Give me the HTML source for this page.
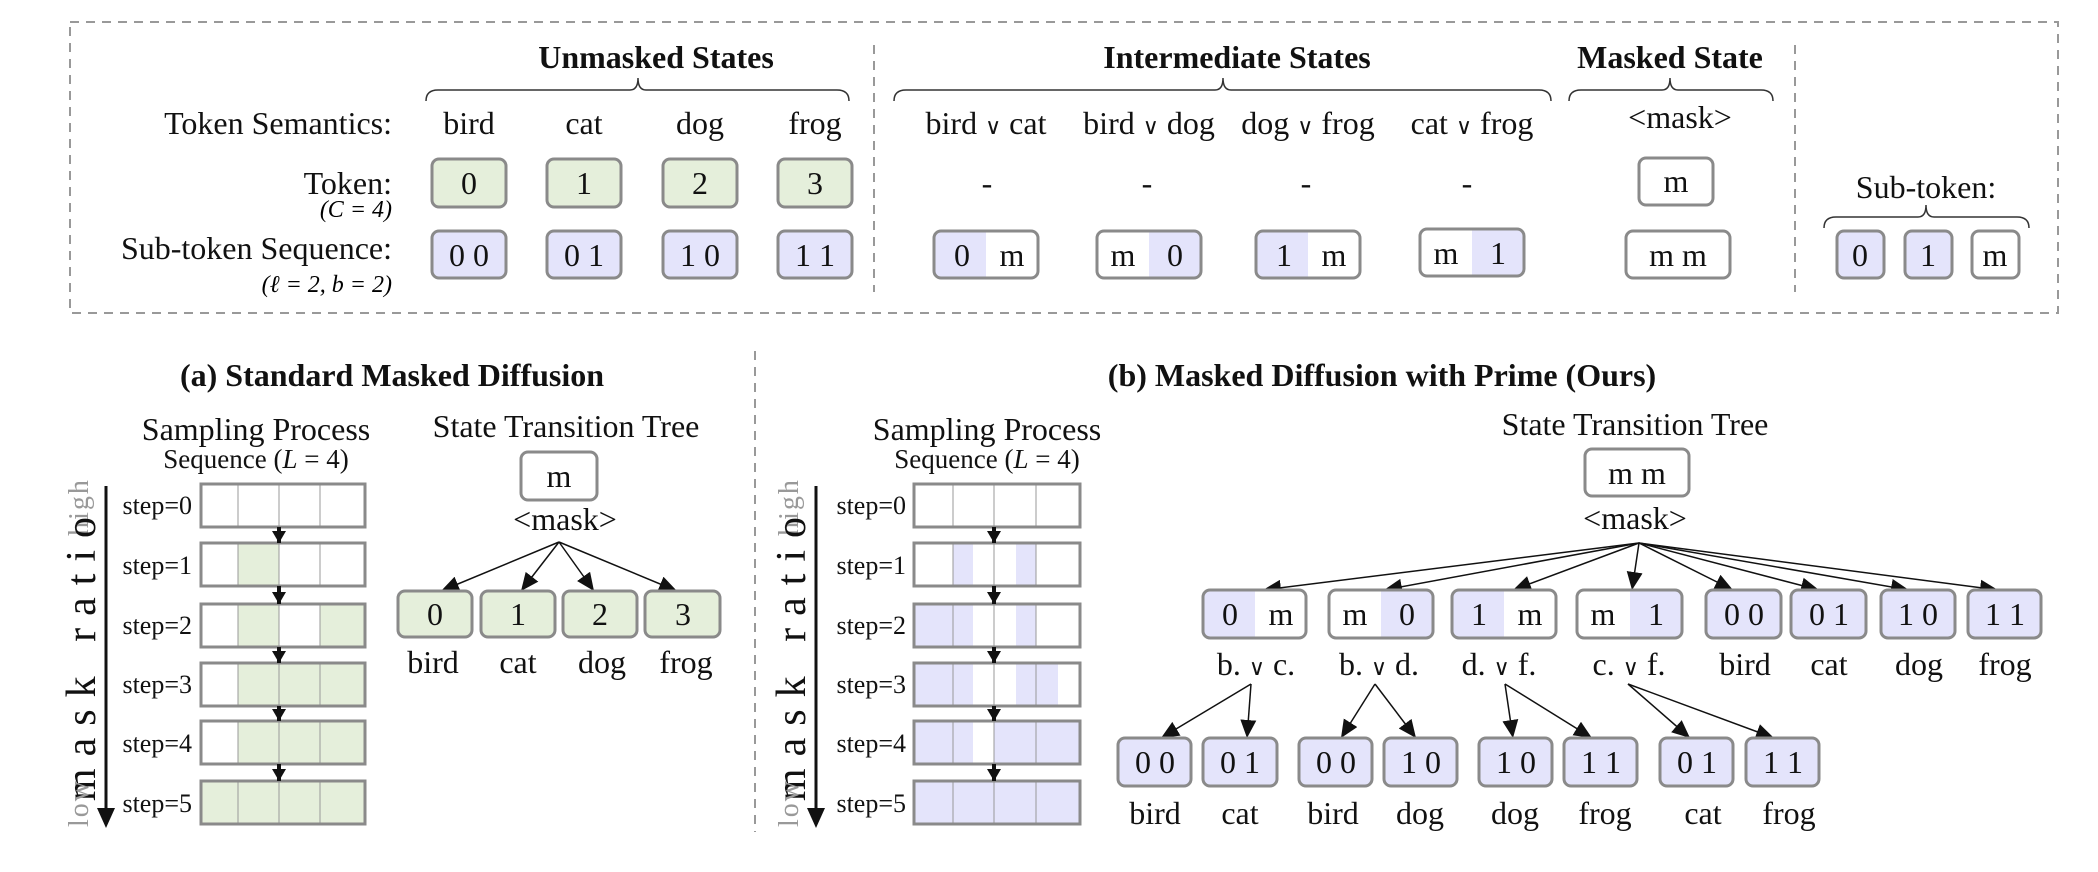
<!DOCTYPE html>
<html><head><meta charset="utf-8"><style>
html,body{margin:0;padding:0;background:#fff;}
body{position:relative;width:2098px;height:872px;overflow:hidden;}
svg{display:block;font-family:"Liberation Serif","DejaVu Serif",serif;}
.b{fill:none;stroke:#8a8a8a;stroke-width:3;}
.g{fill:#e5efdb;}
.p{fill:#e4e4fb;}
.w{fill:#fff;}
.t{font-size:32px;text-anchor:middle;fill:#111;}
.tb{font-size:32px;font-weight:bold;text-anchor:middle;fill:#111;}
.s{font-size:26px;text-anchor:end;fill:#111;}
.br{fill:none;stroke:#333;stroke-width:1.5;}
.a{stroke:#111;stroke-width:1.5;fill:none;marker-end:url(#ah);}
.ka{stroke:#111;stroke-width:4;marker-end:url(#kh);}
.d{stroke:#999;stroke-width:2;stroke-dasharray:9,7;fill:none;}
.cl{stroke:#999;stroke-width:1;}
.v{font-size:22px;}
.rot{position:absolute;font-family:"Liberation Serif","DejaVu Serif",serif;white-space:nowrap;line-height:1;transform:translate(-50%,-50%);writing-mode:vertical-rl;text-orientation:sideways;writing-mode:sideways-lr;}
.vert{font-size:42px;color:#111;letter-spacing:12px;}
.gr{font-size:28px;color:#999;letter-spacing:2px;}
</style></head><body>
<svg width="2098" height="872" viewBox="0 0 2098 872" xmlns="http://www.w3.org/2000/svg">
<defs>
<marker id="ah" markerUnits="userSpaceOnUse" markerWidth="20" markerHeight="16" refX="18" refY="8" orient="auto"><path d="M0,0 L18,8 L0,16 z" fill="#111"/></marker>
<marker id="kh" markerUnits="userSpaceOnUse" markerWidth="14" markerHeight="14" refX="12" refY="7" orient="auto"><path d="M0,0 L12,7 L0,14 z" fill="#111"/></marker>
</defs>

<rect x="70" y="22" width="1988" height="291" class="d"/>
<line x1="874" y1="45" x2="874" y2="292" class="d"/>
<line x1="1795" y1="45" x2="1795" y2="292" class="d"/>

<text x="656" y="68" class="tb">Unmasked States</text>
<text x="1237" y="68" class="tb">Intermediate States</text>
<text x="1670" y="68" class="tb">Masked State</text>

<path class="br" d="M426,101 Q426,90 438,90 L630,90 Q638,90 638,78 Q638,90 646,90 L837,90 Q849,90 849,101"/>
<path class="br" d="M894,101 Q894,90 906,90 L1215,90 Q1223,90 1223,78 Q1223,90 1231,90 L1539,90 Q1551,90 1551,101"/>
<path class="br" d="M1569,101 Q1569,90 1581,90 L1662,90 Q1670,90 1670,78 Q1670,90 1678,90 L1761,90 Q1773,90 1773,101"/>
<path class="br" d="M1824,228 Q1824,217 1836,217 L1918,217 Q1926,217 1926,205 Q1926,217 1934,217 L2017,217 Q2029,217 2029,228"/>

<text x="392" y="134" class="t" style="text-anchor:end">Token Semantics:</text>
<text x="392" y="194" class="t" style="text-anchor:end">Token:</text>
<text x="392" y="217" style="font-size:24px;text-anchor:end;font-style:italic">(C = 4)</text>
<text x="392" y="259" class="t" style="text-anchor:end">Sub-token Sequence:</text>
<text x="392" y="292" style="font-size:24px;text-anchor:end;font-style:italic">(ℓ = 2, b = 2)</text>

<text x="469" y="134" class="t">bird</text>
<text x="584" y="134" class="t">cat</text>
<text x="700" y="134" class="t">dog</text>
<text x="815" y="134" class="t">frog</text>
<text x="986" y="134" class="t">bird <tspan class="v">∨</tspan> cat</text>
<text x="1149" y="134" class="t">bird <tspan class="v">∨</tspan> dog</text>
<text x="1308" y="134" class="t">dog <tspan class="v">∨</tspan> frog</text>
<text x="1472" y="134" class="t">cat <tspan class="v">∨</tspan> frog</text>
<text x="1680" y="128" class="t">&lt;mask&gt;</text>

<rect x="432" y="159" width="74" height="48" rx="7" class="g"/><rect x="432" y="159" width="74" height="48" rx="7" class="b"/><text x="469" y="194" class="t">0</text>
<rect x="547" y="159" width="74" height="48" rx="7" class="g"/><rect x="547" y="159" width="74" height="48" rx="7" class="b"/><text x="584" y="194" class="t">1</text>
<rect x="663" y="159" width="74" height="48" rx="7" class="g"/><rect x="663" y="159" width="74" height="48" rx="7" class="b"/><text x="700" y="194" class="t">2</text>
<rect x="778" y="159" width="74" height="48" rx="7" class="g"/><rect x="778" y="159" width="74" height="48" rx="7" class="b"/><text x="815" y="194" class="t">3</text>
<text x="987" y="194" class="t">-</text><text x="1147" y="194" class="t">-</text><text x="1306" y="194" class="t">-</text><text x="1467" y="194" class="t">-</text>
<rect x="1639" y="158" width="74" height="47" rx="7" class="w"/><rect x="1639" y="158" width="74" height="47" rx="7" class="b"/><text x="1676" y="192" class="t">m</text>

<rect x="432" y="231" width="74" height="47" rx="7" class="p"/><rect x="432" y="231" width="74" height="47" rx="7" class="b"/><text x="469" y="266" class="t">0 0</text>
<rect x="547" y="231" width="74" height="47" rx="7" class="p"/><rect x="547" y="231" width="74" height="47" rx="7" class="b"/><text x="584" y="266" class="t">0 1</text>
<rect x="663" y="231" width="74" height="47" rx="7" class="p"/><rect x="663" y="231" width="74" height="47" rx="7" class="b"/><text x="700" y="266" class="t">1 0</text>
<rect x="778" y="231" width="74" height="47" rx="7" class="p"/><rect x="778" y="231" width="74" height="47" rx="7" class="b"/><text x="815" y="266" class="t">1 1</text>

<rect x="934" y="231" width="104" height="47" rx="7" class="w"/><rect x="935" y="232" width="51" height="45" class="p"/><rect x="934" y="231" width="104" height="47" rx="7" class="b"/><text x="962" y="266" class="t">0</text><text x="1012" y="266" class="t">m</text>
<rect x="1097" y="231" width="104" height="47" rx="7" class="w"/><rect x="1149" y="232" width="51" height="45" class="p"/><rect x="1097" y="231" width="104" height="47" rx="7" class="b"/><text x="1123" y="266" class="t">m</text><text x="1175" y="266" class="t">0</text>
<rect x="1256" y="231" width="104" height="47" rx="7" class="w"/><rect x="1257" y="232" width="51" height="45" class="p"/><rect x="1256" y="231" width="104" height="47" rx="7" class="b"/><text x="1284" y="266" class="t">1</text><text x="1334" y="266" class="t">m</text>
<rect x="1420" y="229" width="104" height="47" rx="7" class="w"/><rect x="1472" y="230" width="51" height="45" class="p"/><rect x="1420" y="229" width="104" height="47" rx="7" class="b"/><text x="1446" y="264" class="t">m</text><text x="1498" y="264" class="t">1</text>
<rect x="1626" y="231" width="104" height="47" rx="7" class="w"/><rect x="1626" y="231" width="104" height="47" rx="7" class="b"/><text x="1678" y="266" class="t">m m</text>

<text x="1926" y="198" class="t">Sub-token:</text>
<rect x="1837" y="231" width="47" height="47" rx="7" class="p"/><rect x="1837" y="231" width="47" height="47" rx="7" class="b"/><text x="1860" y="266" class="t">0</text>
<rect x="1905" y="231" width="47" height="47" rx="7" class="p"/><rect x="1905" y="231" width="47" height="47" rx="7" class="b"/><text x="1928" y="266" class="t">1</text>
<rect x="1972" y="231" width="47" height="47" rx="7" class="w"/><rect x="1972" y="231" width="47" height="47" rx="7" class="b"/><text x="1995" y="266" class="t">m</text>

<line x1="755" y1="351" x2="755" y2="832" class="d"/>

<text x="392" y="386" class="tb">(a) Standard Masked Diffusion</text>
<text x="256" y="440" class="t">Sampling Process</text>
<text x="256" y="468" class="t" style="font-size:27px">Sequence (<tspan font-style="italic">L</tspan> = 4)</text>
<text x="566" y="437" class="t">State Transition Tree</text>

<line x1="106" y1="486" x2="106" y2="810" stroke="#111" stroke-width="3"/>
<path d="M97,808 L115,808 L106,828 z" fill="#111"/>

<g>
<text x="192" y="514" class="s">step=0</text>
<rect x="201" y="484" width="164" height="43" class="w"/>
<line x1="238" y1="484" x2="238" y2="527" class="cl"/><line x1="279" y1="484" x2="279" y2="527" class="cl"/><line x1="320" y1="484" x2="320" y2="527" class="cl"/>
<rect x="201" y="484" width="164" height="43" class="b"/>

<text x="192" y="574" class="s">step=1</text>
<rect x="238" y="543" width="41" height="43" class="g"/>
<line x1="238" y1="543" x2="238" y2="586" class="cl"/><line x1="279" y1="543" x2="279" y2="586" class="cl"/><line x1="320" y1="543" x2="320" y2="586" class="cl"/>
<rect x="201" y="543" width="164" height="43" class="b"/>

<text x="192" y="634" class="s">step=2</text>
<rect x="238" y="604" width="41" height="43" class="g"/><rect x="320" y="604" width="45" height="43" class="g"/>
<line x1="238" y1="604" x2="238" y2="647" class="cl"/><line x1="279" y1="604" x2="279" y2="647" class="cl"/><line x1="320" y1="604" x2="320" y2="647" class="cl"/>
<rect x="201" y="604" width="164" height="43" class="b"/>

<text x="192" y="693" class="s">step=3</text>
<rect x="238" y="663" width="127" height="43" class="g"/>
<line x1="238" y1="663" x2="238" y2="706" class="cl"/><line x1="279" y1="663" x2="279" y2="706" class="cl"/><line x1="320" y1="663" x2="320" y2="706" class="cl"/>
<rect x="201" y="663" width="164" height="43" class="b"/>

<text x="192" y="752" class="s">step=4</text>
<rect x="238" y="721" width="127" height="43" class="g"/>
<line x1="238" y1="721" x2="238" y2="764" class="cl"/><line x1="279" y1="721" x2="279" y2="764" class="cl"/><line x1="320" y1="721" x2="320" y2="764" class="cl"/>
<rect x="201" y="721" width="164" height="43" class="b"/>

<text x="192" y="812" class="s">step=5</text>
<rect x="201" y="781" width="164" height="43" class="g"/>
<line x1="238" y1="781" x2="238" y2="824" class="cl"/><line x1="279" y1="781" x2="279" y2="824" class="cl"/><line x1="320" y1="781" x2="320" y2="824" class="cl"/>
<rect x="201" y="781" width="164" height="43" class="b"/>

<line x1="279" y1="527" x2="279" y2="543" class="ka"/>
<line x1="279" y1="586" x2="279" y2="604" class="ka"/>
<line x1="279" y1="647" x2="279" y2="663" class="ka"/>
<line x1="279" y1="706" x2="279" y2="721" class="ka"/>
<line x1="279" y1="764" x2="279" y2="781" class="ka"/>
</g>

<rect x="521" y="452" width="76" height="48" rx="7" class="w"/><rect x="521" y="452" width="76" height="48" rx="7" class="b"/><text x="559" y="487" class="t">m</text>
<text x="565" y="530" class="t">&lt;mask&gt;</text>
<line x1="559" y1="542" x2="441" y2="591" class="a"/>
<line x1="559" y1="542" x2="521" y2="591" class="a"/>
<line x1="559" y1="542" x2="594" y2="591" class="a"/>
<line x1="559" y1="542" x2="677" y2="591" class="a"/>
<rect x="398" y="591" width="74" height="46" rx="7" class="g"/><rect x="398" y="591" width="74" height="46" rx="7" class="b"/><text x="435" y="625" class="t">0</text>
<rect x="481" y="591" width="74" height="46" rx="7" class="g"/><rect x="481" y="591" width="74" height="46" rx="7" class="b"/><text x="518" y="625" class="t">1</text>
<rect x="563" y="591" width="74" height="46" rx="7" class="g"/><rect x="563" y="591" width="74" height="46" rx="7" class="b"/><text x="600" y="625" class="t">2</text>
<rect x="645" y="591" width="75" height="46" rx="7" class="g"/><rect x="645" y="591" width="75" height="46" rx="7" class="b"/><text x="683" y="625" class="t">3</text>
<text x="433" y="673" class="t">bird</text><text x="518" y="673" class="t">cat</text><text x="602" y="673" class="t">dog</text><text x="686" y="673" class="t">frog</text>

<text x="1382" y="386" class="tb">(b) Masked Diffusion with Prime (Ours)</text>
<text x="987" y="440" class="t">Sampling Process</text>
<text x="987" y="468" class="t" style="font-size:27px">Sequence (<tspan font-style="italic">L</tspan> = 4)</text>

<line x1="816" y1="486" x2="816" y2="810" stroke="#111" stroke-width="3"/>
<path d="M807,808 L825,808 L816,828 z" fill="#111"/>

<g>
<text x="906" y="514" class="s">step=0</text>
<rect x="914" y="484" width="166" height="43" class="w"/>
<line x1="953" y1="484" x2="953" y2="527" class="cl"/><line x1="994" y1="484" x2="994" y2="527" class="cl"/><line x1="1036" y1="484" x2="1036" y2="527" class="cl"/>
<rect x="914" y="484" width="166" height="43" class="b"/>

<text x="906" y="574" class="s">step=1</text>
<rect x="953" y="543" width="20" height="43" class="p"/><rect x="1016" y="543" width="20" height="43" class="p"/>
<line x1="953" y1="543" x2="953" y2="586" class="cl"/><line x1="994" y1="543" x2="994" y2="586" class="cl"/><line x1="1036" y1="543" x2="1036" y2="586" class="cl"/>
<rect x="914" y="543" width="166" height="43" class="b"/>

<text x="906" y="634" class="s">step=2</text>
<rect x="914" y="604" width="59" height="43" class="p"/><rect x="1016" y="604" width="20" height="43" class="p"/>
<line x1="953" y1="604" x2="953" y2="647" class="cl"/><line x1="994" y1="604" x2="994" y2="647" class="cl"/><line x1="1036" y1="604" x2="1036" y2="647" class="cl"/>
<rect x="914" y="604" width="166" height="43" class="b"/>

<text x="906" y="693" class="s">step=3</text>
<rect x="914" y="663" width="59" height="43" class="p"/><rect x="1016" y="663" width="42" height="43" class="p"/>
<line x1="953" y1="663" x2="953" y2="706" class="cl"/><line x1="994" y1="663" x2="994" y2="706" class="cl"/><line x1="1036" y1="663" x2="1036" y2="706" class="cl"/>
<rect x="914" y="663" width="166" height="43" class="b"/>

<text x="906" y="752" class="s">step=4</text>
<rect x="914" y="721" width="59" height="43" class="p"/><rect x="994" y="721" width="86" height="43" class="p"/>
<line x1="953" y1="721" x2="953" y2="764" class="cl"/><line x1="994" y1="721" x2="994" y2="764" class="cl"/><line x1="1036" y1="721" x2="1036" y2="764" class="cl"/>
<rect x="914" y="721" width="166" height="43" class="b"/>

<text x="906" y="812" class="s">step=5</text>
<rect x="914" y="781" width="166" height="43" class="p"/>
<line x1="953" y1="781" x2="953" y2="824" class="cl"/><line x1="994" y1="781" x2="994" y2="824" class="cl"/><line x1="1036" y1="781" x2="1036" y2="824" class="cl"/>
<rect x="914" y="781" width="166" height="43" class="b"/>

<line x1="994" y1="527" x2="994" y2="543" class="ka"/>
<line x1="994" y1="586" x2="994" y2="604" class="ka"/>
<line x1="994" y1="647" x2="994" y2="663" class="ka"/>
<line x1="994" y1="706" x2="994" y2="721" class="ka"/>
<line x1="994" y1="764" x2="994" y2="781" class="ka"/>
</g>

<text x="1635" y="435" class="t">State Transition Tree</text>
<rect x="1585" y="449" width="104" height="47" rx="7" class="w"/><rect x="1585" y="449" width="104" height="47" rx="7" class="b"/><text x="1637" y="484" class="t">m m</text>
<text x="1635" y="529" class="t">&lt;mask&gt;</text>
<line x1="1639" y1="543" x2="1263" y2="590" class="a"/>
<line x1="1639" y1="543" x2="1384" y2="590" class="a"/>
<line x1="1639" y1="543" x2="1513" y2="590" class="a"/>
<line x1="1639" y1="543" x2="1632" y2="590" class="a"/>
<line x1="1639" y1="543" x2="1733" y2="590" class="a"/>
<line x1="1639" y1="543" x2="1819" y2="590" class="a"/>
<line x1="1639" y1="543" x2="1909" y2="590" class="a"/>
<line x1="1639" y1="543" x2="1998" y2="590" class="a"/>

<rect x="1203" y="590" width="103" height="48" rx="7" class="w"/><rect x="1204" y="591" width="51" height="46" class="p"/><rect x="1203" y="590" width="103" height="48" rx="7" class="b"/><text x="1230" y="625" class="t">0</text><text x="1281" y="625" class="t">m</text>
<rect x="1329" y="590" width="104" height="48" rx="7" class="w"/><rect x="1381" y="591" width="51" height="46" class="p"/><rect x="1329" y="590" width="104" height="48" rx="7" class="b"/><text x="1355" y="625" class="t">m</text><text x="1407" y="625" class="t">0</text>
<rect x="1452" y="590" width="104" height="48" rx="7" class="w"/><rect x="1453" y="591" width="51" height="46" class="p"/><rect x="1452" y="590" width="104" height="48" rx="7" class="b"/><text x="1479" y="625" class="t">1</text><text x="1530" y="625" class="t">m</text>
<rect x="1577" y="590" width="105" height="48" rx="7" class="w"/><rect x="1630" y="591" width="51" height="46" class="p"/><rect x="1577" y="590" width="105" height="48" rx="7" class="b"/><text x="1603" y="625" class="t">m</text><text x="1656" y="625" class="t">1</text>
<rect x="1706" y="590" width="75" height="48" rx="7" class="p"/><rect x="1706" y="590" width="75" height="48" rx="7" class="b"/><text x="1744" y="625" class="t">0 0</text>
<rect x="1791" y="590" width="75" height="48" rx="7" class="p"/><rect x="1791" y="590" width="75" height="48" rx="7" class="b"/><text x="1829" y="625" class="t">0 1</text>
<rect x="1881" y="590" width="74" height="48" rx="7" class="p"/><rect x="1881" y="590" width="74" height="48" rx="7" class="b"/><text x="1918" y="625" class="t">1 0</text>
<rect x="1968" y="590" width="73" height="48" rx="7" class="p"/><rect x="1968" y="590" width="73" height="48" rx="7" class="b"/><text x="2005" y="625" class="t">1 1</text>

<text x="1256" y="675" class="t">b. <tspan class="v">∨</tspan> c.</text>
<text x="1379" y="675" class="t">b. <tspan class="v">∨</tspan> d.</text>
<text x="1499" y="675" class="t">d. <tspan class="v">∨</tspan> f.</text>
<text x="1629" y="675" class="t">c. <tspan class="v">∨</tspan> f.</text>
<text x="1745" y="675" class="t">bird</text>
<text x="1829" y="675" class="t">cat</text>
<text x="1919" y="675" class="t">dog</text>
<text x="2005" y="675" class="t">frog</text>

<line x1="1251" y1="684" x2="1161" y2="738" class="a"/>
<line x1="1251" y1="684" x2="1247" y2="738" class="a"/>
<line x1="1375" y1="684" x2="1341" y2="738" class="a"/>
<line x1="1375" y1="684" x2="1416" y2="738" class="a"/>
<line x1="1505" y1="684" x2="1513" y2="738" class="a"/>
<line x1="1505" y1="684" x2="1592" y2="738" class="a"/>
<line x1="1628" y1="684" x2="1690" y2="738" class="a"/>
<line x1="1628" y1="684" x2="1774" y2="738" class="a"/>

<rect x="1118" y="738" width="73" height="48" rx="7" class="p"/><rect x="1118" y="738" width="73" height="48" rx="7" class="b"/><text x="1155" y="773" class="t">0 0</text>
<rect x="1203" y="738" width="74" height="48" rx="7" class="p"/><rect x="1203" y="738" width="74" height="48" rx="7" class="b"/><text x="1240" y="773" class="t">0 1</text>
<rect x="1299" y="738" width="73" height="48" rx="7" class="p"/><rect x="1299" y="738" width="73" height="48" rx="7" class="b"/><text x="1336" y="773" class="t">0 0</text>
<rect x="1384" y="738" width="73" height="48" rx="7" class="p"/><rect x="1384" y="738" width="73" height="48" rx="7" class="b"/><text x="1421" y="773" class="t">1 0</text>
<rect x="1479" y="738" width="73" height="48" rx="7" class="p"/><rect x="1479" y="738" width="73" height="48" rx="7" class="b"/><text x="1516" y="773" class="t">1 0</text>
<rect x="1564" y="738" width="73" height="48" rx="7" class="p"/><rect x="1564" y="738" width="73" height="48" rx="7" class="b"/><text x="1601" y="773" class="t">1 1</text>
<rect x="1660" y="738" width="73" height="48" rx="7" class="p"/><rect x="1660" y="738" width="73" height="48" rx="7" class="b"/><text x="1697" y="773" class="t">0 1</text>
<rect x="1746" y="738" width="73" height="48" rx="7" class="p"/><rect x="1746" y="738" width="73" height="48" rx="7" class="b"/><text x="1783" y="773" class="t">1 1</text>

<text x="1155" y="824" class="t">bird</text>
<text x="1240" y="824" class="t">cat</text>
<text x="1333" y="824" class="t">bird</text>
<text x="1420" y="824" class="t">dog</text>
<text x="1515" y="824" class="t">dog</text>
<text x="1605" y="824" class="t">frog</text>
<text x="1703" y="824" class="t">cat</text>
<text x="1789" y="824" class="t">frog</text>
</svg>

<div class="rot gr" style="left:80px;top:507px">high</div>
<div class="rot vert" style="left:82px;top:653px">mask ratio</div>
<div class="rot gr" style="left:80px;top:803px">low</div>
<div class="rot gr" style="left:790px;top:507px">high</div>
<div class="rot vert" style="left:792px;top:653px">mask ratio</div>
<div class="rot gr" style="left:790px;top:803px">low</div>
</body></html>
